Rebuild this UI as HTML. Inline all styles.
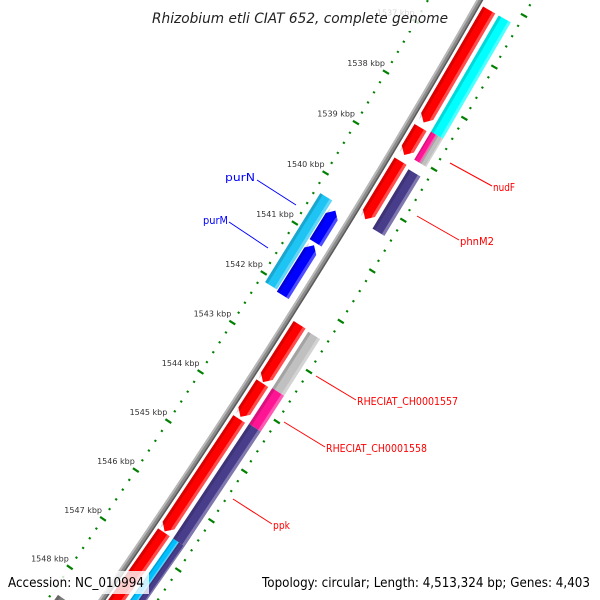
<!DOCTYPE html>
<html><head><meta charset="utf-8"><style>
html,body{margin:0;padding:0;background:#fff;width:600px;height:600px;overflow:hidden;}
svg{display:block;font-family:"DejaVu Sans","Liberation Sans",sans-serif;}
</style></head><body>
<svg id="map" width="600" height="600" viewBox="0 0 600 600" xmlns="http://www.w3.org/2000/svg">
<g id="ticks"></g>
<g id="backbone"></g>
<g id="features"></g>
<g id="labels"></g>
<g id="ticklabels"></g>
<rect x="148" y="5" width="304" height="26" fill="#fff" fill-opacity="0.8"/>
<text x="300" y="23" text-anchor="middle" font-style="italic" font-size="14" fill="#222" textLength="296" lengthAdjust="spacingAndGlyphs">Rhizobium etli CIAT 652, complete genome</text>
<rect x="5" y="571" width="144" height="23" fill="#fff" fill-opacity="0.8"/>
<text x="8" y="587" font-size="13" fill="#000" textLength="136" lengthAdjust="spacingAndGlyphs">Accession: NC_010994</text>
<text x="262" y="587" font-size="13" fill="#000" textLength="328" lengthAdjust="spacingAndGlyphs">Topology: circular; Length: 4,513,324 bp; Genes: 4,403</text>
</svg>
<script>
// ---- data ----
const tickKbp = [1537,1538,1539,1540,1541,1542,1543,1544,1545,1546,1547,1548];
const tickLabels = ["1537 kbp","1538 kbp","1539 kbp","1540 kbp","1541 kbp","1542 kbp","1543 kbp","1544 kbp","1545 kbp","1546 kbp","1547 kbp","1548 kbp"];
// feature starts/ends in kbp
const featNames  = ["cds-1","cds-2","cds-3","cds-4","cds-5","cds-6","cds-7","cog-cyan-1","cog-pink-1","cog-gray-1","phnM2-cog","RHECIAT_CH0001557-cog","RHECIAT_CH0001558-cog","ppk-cog","cog-cyan-2","cog-purple-2","purN","purM-a","purM-b","inner-gray"];
const featStart  = [1536.21,1538.51,1539.17,1542.42,1543.59,1544.31,1546.61,1536.21,1538.48,1538.48,1539.22,1542.44,1543.57,1544.29,1546.61,1546.61,1540.34,1540.46,1541.15,1548.5];
const featEnd    = [1538.41,1539.05,1540.32,1543.57,1544.27,1546.59,1551.0,1538.48,1539.03,1539.03,1540.39,1543.57,1544.29,1546.61,1551.0,1551.0,1542.12,1541.10,1542.15,1551.0];
const featSlot   = ["o1","o1","o1","o1","o1","o1","o1","o2","o2a","o2b","o2","o2","o2","o2","o2a","o2b","i2","i1","i1","i2"];
const featDir    = [1,1,1,1,1,1,1,0,0,0,0,0,0,0,0,0,0,-1,-1,0];
const featColor  = ["#ff0000","#ff0000","#ff0000","#ff0000","#ff0000","#ff0000","#ff0000","#00ffff","#ff1493","#c0c0c0","#483d8b","#c0c0c0","#ff1493","#483d8b","#00bfff","#483d8b","#1ec4f4","#0000ff","#0000ff","#7a7a7a"];

// ---- geometry ----
const CX=-6689, CY=-4097, R0=8257, A0=31.33, DPK=0.41;
const slots={o1:[6,20],o2:[24,38],o2a:[24,31],o2b:[31,38],i1:[-24,-10],i2:[-39,-25]};
function ang(k){return A0+(k-1540)*DPK;}
function pt(r,a){const t=a*Math.PI/180;return [CX+r*Math.cos(t),CY+r*Math.sin(t)];}
const NS="http://www.w3.org/2000/svg";
function mk(tag,attrs,parent){const e=document.createElementNS(NS,tag);for(const k in attrs)e.setAttribute(k,attrs[k]);parent.appendChild(e);return e;}
function poly(r1,r2,a1,a2,dir){
  const h=7/R0*180/Math.PI, rm=(r1+r2)/2, p=[];
  if(dir===1){p.push(pt(r1,a1),pt(r2,a1),pt(r2,a2-h),pt(rm,a2),pt(r1,a2-h));}
  else if(dir===-1){p.push(pt(rm,a1),pt(r2,a1+h),pt(r2,a2),pt(r1,a2),pt(r1,a1+h));}
  else{p.push(pt(r1,a1),pt(r2,a1),pt(r2,a2),pt(r1,a2));}
  return p.map(q=>q[0].toFixed(2)+","+q[1].toFixed(2)).join(" ");
}
function arcBand(r1,r2,a1,a2){
  const p=[];for(let a=a1;a<=a2+1e-9;a+=0.1)p.push(pt(r2,a));
  for(let a=a2;a>=a1-1e-9;a-=0.1)p.push(pt(r1,a));
  return p.map(q=>q[0].toFixed(2)+","+q[1].toFixed(2)).join(" ");
}

// backbone
const bb=document.getElementById('backbone');
let e=mk('polygon',{points:arcBand(R0-3,R0+3,28,37),fill:'#8a8a8a'},bb);


e=mk('polygon',{points:arcBand(R0-3,R0-1,28,37),fill:'#b8b8b8'},bb);


e=mk('polygon',{points:arcBand(R0+1.5,R0+3,28,37),fill:'#5a5a5a'},bb);



// tick rings
const tg=document.getElementById('ticks');
for(const side of [-45,46]){
  for(let i=0;i<=80;i++){
    const k=1535+i*0.2, a=ang(k);
    const major=Math.abs(k-Math.round(k))<1e-6;
    const L=major?3.5:1.1;
    const p1=pt(R0+side-L,a), p2=pt(R0+side+L,a);
    const ln=mk('line',{x1:p1[0],y1:p1[1],x2:p2[0],y2:p2[1],stroke:'#008000','stroke-width':major?2.2:2},tg);
    
    
  }
}
// tick labels
const tl=document.getElementById('ticklabels');
tickKbp.forEach((k,i)=>{
  const p=pt(R0-45,ang(k));
  const t=mk('text',{x:(p[0]-1).toFixed(1),y:(p[1]-6).toFixed(1),'text-anchor':'end','font-size':'8',fill:'#333'},tl);
  
  
  t.textContent=tickLabels[i];
});

// features
const fg=document.getElementById('features');
featNames.forEach((n,i)=>{
  const s=slots[featSlot[i]], a1=ang(featStart[i]), a2=ang(featEnd[i]);
  const r1=R0+s[0], r2=R0+s[1];
  const g=mk('g',{},fg);
  
  
  mk('polygon',{points:poly(r1,r2,a1,a2,featDir[i]),fill:featColor[i]},g);
  const w=r2-r1;
  mk('polygon',{points:poly(r2-w*0.22,r2,a1,a2,featDir[i]),fill:'#fff','fill-opacity':0.3},g);
  mk('polygon',{points:poly(r1,r1+w*0.22,a1,a2,featDir[i]),fill:'#000','fill-opacity':0.15},g);
});

// labels
const labelText=["purN","purM","nudF","phnM2","RHECIAT_CH0001557","RHECIAT_CH0001558","ppk"];
const labelColor=["#0000ff","#0000ff","#ff0000","#ff0000","#ff0000","#ff0000","#ff0000"];
const lineFrom=[[296,205],[268,248],[450,163],[417,216],[316,376],[284,422],[233,499]];
const lineTo=[[257,180],[229,222],[492,186],[459,240],[356,400],[325,447],[272,524]];
const textPos=[[255,181,'end'],[228,224,'end'],[493,191,'start'],[460,245,'start'],[357,405,'start'],[326,452,'start'],[273,529,'start']];
const textW=[30,25,22,34,101,101,17];
const lg=document.getElementById('labels');
labelText.forEach((t,i)=>{
  const l=mk('line',{x1:lineFrom[i][0],y1:lineFrom[i][1],x2:lineTo[i][0],y2:lineTo[i][1],stroke:labelColor[i],'stroke-width':1},lg);
  
  
  const tx=mk('text',{x:textPos[i][0],y:textPos[i][1],'text-anchor':textPos[i][2],'font-size':'10.5',fill:labelColor[i],textLength:textW[i],lengthAdjust:'spacingAndGlyphs'},lg);
  
  
  tx.textContent=t;
});
</script>
</body></html>
